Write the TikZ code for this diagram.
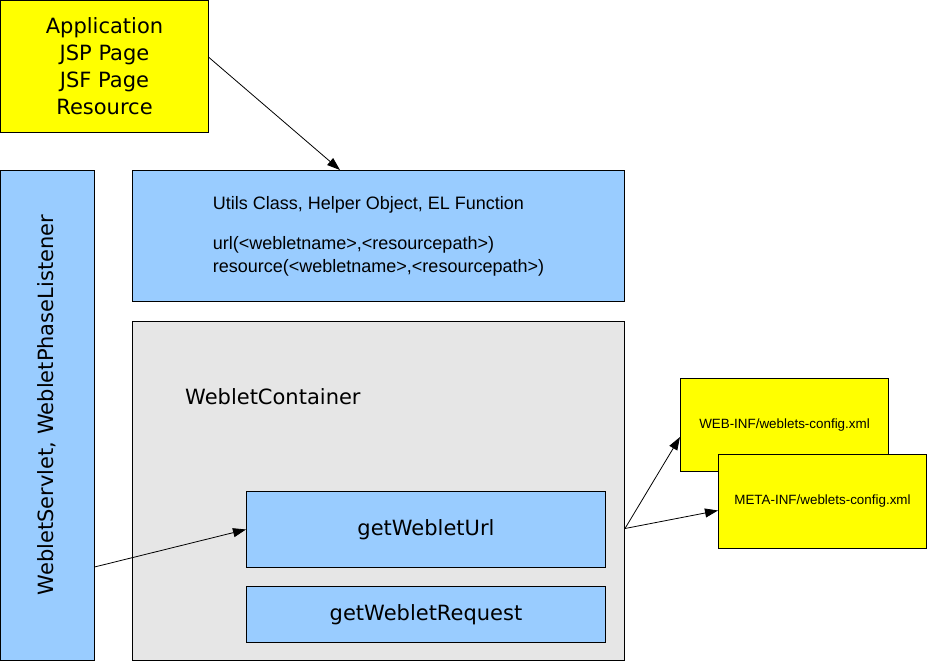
\documentclass[tikz,border=0pt]{standalone}
\usepackage{fontspec}
\setmainfont{DejaVu Sans}
\newfontfamily\arialfont{Liberation Sans}
\usetikzlibrary{arrows.meta}

\definecolor{boxyellow}{HTML}{FFFF00}
\definecolor{boxblue}{HTML}{99CCFF}
\definecolor{boxgray}{HTML}{E6E6E6}

\begin{document}
\begin{tikzpicture}[
      x=1pt, y=-1pt,
      box/.style={draw, line width=1pt, inner sep=0pt, anchor=north west},
      bigtext/.style={font=\fontsize{21}{27}\selectfont, align=center},
      smalltext/.style={font=\arialfont\fontsize{13.4}{15}\selectfont},
      arr/.style={-{Triangle[length=13pt, width=9pt]}, line width=0.8pt},
    ]
    \useasboundingbox (0,0) rectangle (927,662);

    \node[box, bigtext, fill=boxyellow, minimum width=208pt, minimum height=132pt] (app) at (0,0)
      {Application\\JSP Page\\JSF Page\\Resource};

    \node[box, bigtext, fill=boxblue, minimum width=490pt, minimum height=94pt,
        rotate=90, anchor=center] (servlet) at (47,415)
      {\hspace*{20pt}WebletServlet, WebletPhaseListener};

    \node[box, fill=boxblue, minimum width=492pt, minimum height=131pt, align=left,
        font=\arialfont\fontsize{18}{23}\selectfont] (utils) at (132,170)
      {Utils Class, Helper Object, EL Function\\[17pt]
       url(<webletname>,<resourcepath>)\\
       resource(<webletname>,<resourcepath>)};

    \node[box, fill=boxgray, minimum width=492pt, minimum height=339pt] (cont) at (132,321) {};
    \node[bigtext, anchor=west, inner sep=0pt] (contlabel) at (185,397) {WebletContainer};

    \node[box, bigtext, fill=boxblue, minimum width=359pt, minimum height=76pt] (geturl) at (246,491)
      {getWebletUrl};
    \node[box, bigtext, fill=boxblue, minimum width=359pt, minimum height=56pt] (getreq) at (246,586)
      {getWebletRequest};

    \node[box, smalltext, fill=boxyellow, minimum width=208pt, minimum height=93pt] (webinf) at (680,378)
      {WEB-INF/weblets-config.xml};
    \node[box, smalltext, fill=boxyellow, minimum width=208pt, minimum height=94pt] (metainf) at (718,454)
      {META-INF/weblets-config.xml};

    \draw[arr] ([yshift=9pt]app.east) -- ([xshift=208pt]utils.north west);
    \draw[arr] ([yshift=-152pt]servlet.south) -- (geturl.west);
    \draw[arr] ([yshift=-37.5pt]cont.east) -- ([yshift=-12pt]webinf.west);
    \draw[arr] ([yshift=-37.5pt]cont.east) -- ([yshift=-9pt]metainf.west);
  \end{tikzpicture}
\end{document}
